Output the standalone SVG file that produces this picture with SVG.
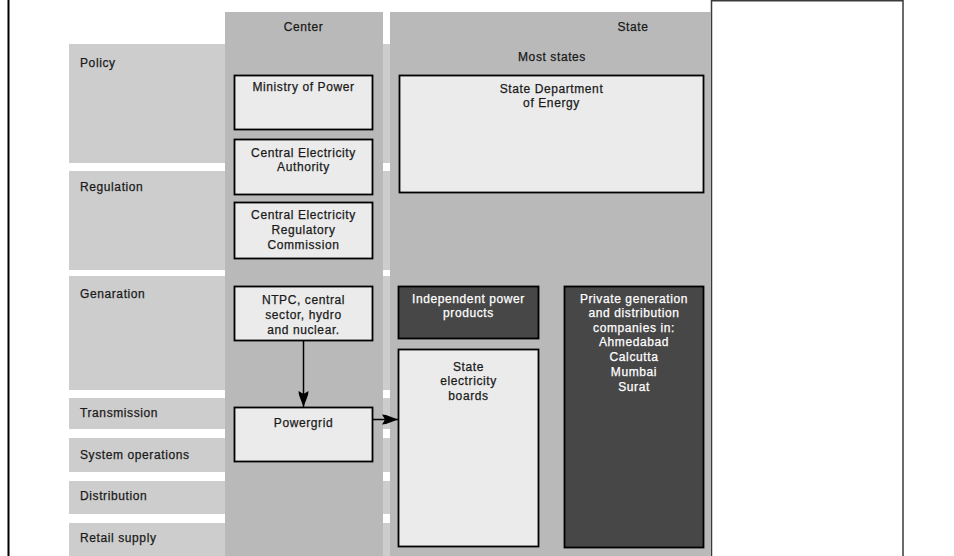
<svg xmlns="http://www.w3.org/2000/svg" width="954" height="556" viewBox="0 0 954 556">
<style>
text{font-family:"Liberation Sans",Arial,sans-serif;font-size:12px;letter-spacing:0.6px;fill:#1a1a1a;stroke:#1a1a1a;stroke-width:0.25}
.c{text-anchor:middle}
.w{fill:#ffffff;stroke:#ffffff}
.band{fill:#cdcdcd}
.col{fill:#b9b9b9}
.box{fill:#ebebeb;stroke:#000;stroke-width:1.8}
.dark{fill:#474747;stroke:#000;stroke-width:1.8}
.conn{stroke:#000;stroke-width:1.5;fill:none}
</style>
<defs>
<marker id="ah" viewBox="0 -6 16 12" refX="16" refY="0" markerWidth="16" markerHeight="12" markerUnits="userSpaceOnUse" orient="auto">
<path d="M16,0 L4,-4.5 L0,-5 L3,0 L0,5 L4,4.5 Z" fill="#000"/>
</marker>
</defs>
<rect width="954" height="556" fill="#ffffff"/>
<g id="frame">
<line x1="8.5" y1="0" x2="8.5" y2="556" stroke="#000" stroke-width="2"/>
<rect x="711.5" y="0.75" width="191.5" height="560" fill="#ffffff" stroke="#3a3a3a" stroke-width="1.5"/>
</g>
<g id="rows">
<rect class="band" x="69" y="44" width="321" height="119"/>
<rect class="band" x="69" y="171" width="321" height="99"/>
<rect class="band" x="69" y="276" width="321" height="114"/>
<rect class="band" x="69" y="398" width="321" height="31"/>
<rect class="band" x="69" y="438" width="321" height="34"/>
<rect class="band" x="69" y="481" width="321" height="33"/>
<rect class="band" x="69" y="523" width="321" height="40"/>
<text x="80" y="66.5">Policy</text>
<text x="80" y="191">Regulation</text>
<text x="80" y="298">Genaration</text>
<text x="80" y="416.5">Transmission</text>
<text x="80" y="459">System operations</text>
<text x="80" y="500">Distribution</text>
<text x="80" y="542">Retail supply</text>
</g>
<g id="center-col">
<rect class="col" x="225" y="12" width="158" height="550"/>
<text class="c" x="303.5" y="30.5">Center</text>
</g>
<g id="state-col">
<rect class="col" x="390" y="12" width="321" height="550"/>
<text class="c" x="633" y="30.5">State</text>
<text class="c" x="552" y="60.5">Most states</text>
</g>
<g id="ministry">
<rect class="box" x="234.5" y="75.5" width="138" height="54"/>
<text class="c" x="303.5" y="90.5">Ministry of Power</text>
</g>
<g id="cea">
<rect class="box" x="234.5" y="139.5" width="138" height="55"/>
<text class="c" x="303.5" y="156.5">Central Electricity</text>
<text class="c" x="303.5" y="171">Authority</text>
</g>
<g id="cerc">
<rect class="box" x="234.5" y="202.5" width="138" height="56"/>
<text class="c" x="303.5" y="218.5">Central Electricity</text>
<text class="c" x="303.5" y="233.5">Regulatory</text>
<text class="c" x="303.5" y="248.5">Commission</text>
</g>
<g id="ntpc">
<rect class="box" x="234.5" y="286.5" width="138" height="54"/>
<text class="c" x="303.5" y="304">NTPC, central</text>
<text class="c" x="303.5" y="319">sector, hydro</text>
<text class="c" x="303.5" y="333.5">and nuclear.</text>
</g>
<g id="powergrid">
<rect class="box" x="234.5" y="407.5" width="138" height="54"/>
<text class="c" x="303.5" y="426.5">Powergrid</text>
</g>
<g id="sde">
<rect class="box" x="399.5" y="75.5" width="304" height="117" stroke-width="2.2"/>
<text class="c" x="551.5" y="92.5">State Department</text>
<text class="c" x="551.5" y="107">of Energy</text>
</g>
<g id="ipp">
<rect class="dark" x="398.5" y="286.5" width="140" height="52"/>
<text class="c w" x="468.5" y="302.5">Independent power</text>
<text class="c w" x="468.5" y="317">products</text>
</g>
<g id="private">
<rect class="dark" x="564.5" y="286.5" width="139" height="261"/>
<text class="c w" x="634" y="302.5">Private generation</text>
<text class="c w" x="634" y="317">and distribution</text>
<text class="c w" x="634" y="331.7">companies in:</text>
<text class="c w" x="634" y="346.4">Ahmedabad</text>
<text class="c w" x="634" y="361">Calcutta</text>
<text class="c w" x="634" y="375.8">Mumbai</text>
<text class="c w" x="634" y="390.5">Surat</text>
</g>
<g id="seb">
<rect class="box" x="398.5" y="349.5" width="140" height="197"/>
<text class="c" x="468.5" y="370.5">State</text>
<text class="c" x="468.5" y="385">electricity</text>
<text class="c" x="468.5" y="399.5">boards</text>
</g>
<g id="connectors">
<path class="conn" d="M303.5,341 L303.5,407" marker-end="url(#ah)"/>
<path class="conn" d="M373,419.5 L398,419.5" marker-end="url(#ah)"/>
</g>
</svg>
